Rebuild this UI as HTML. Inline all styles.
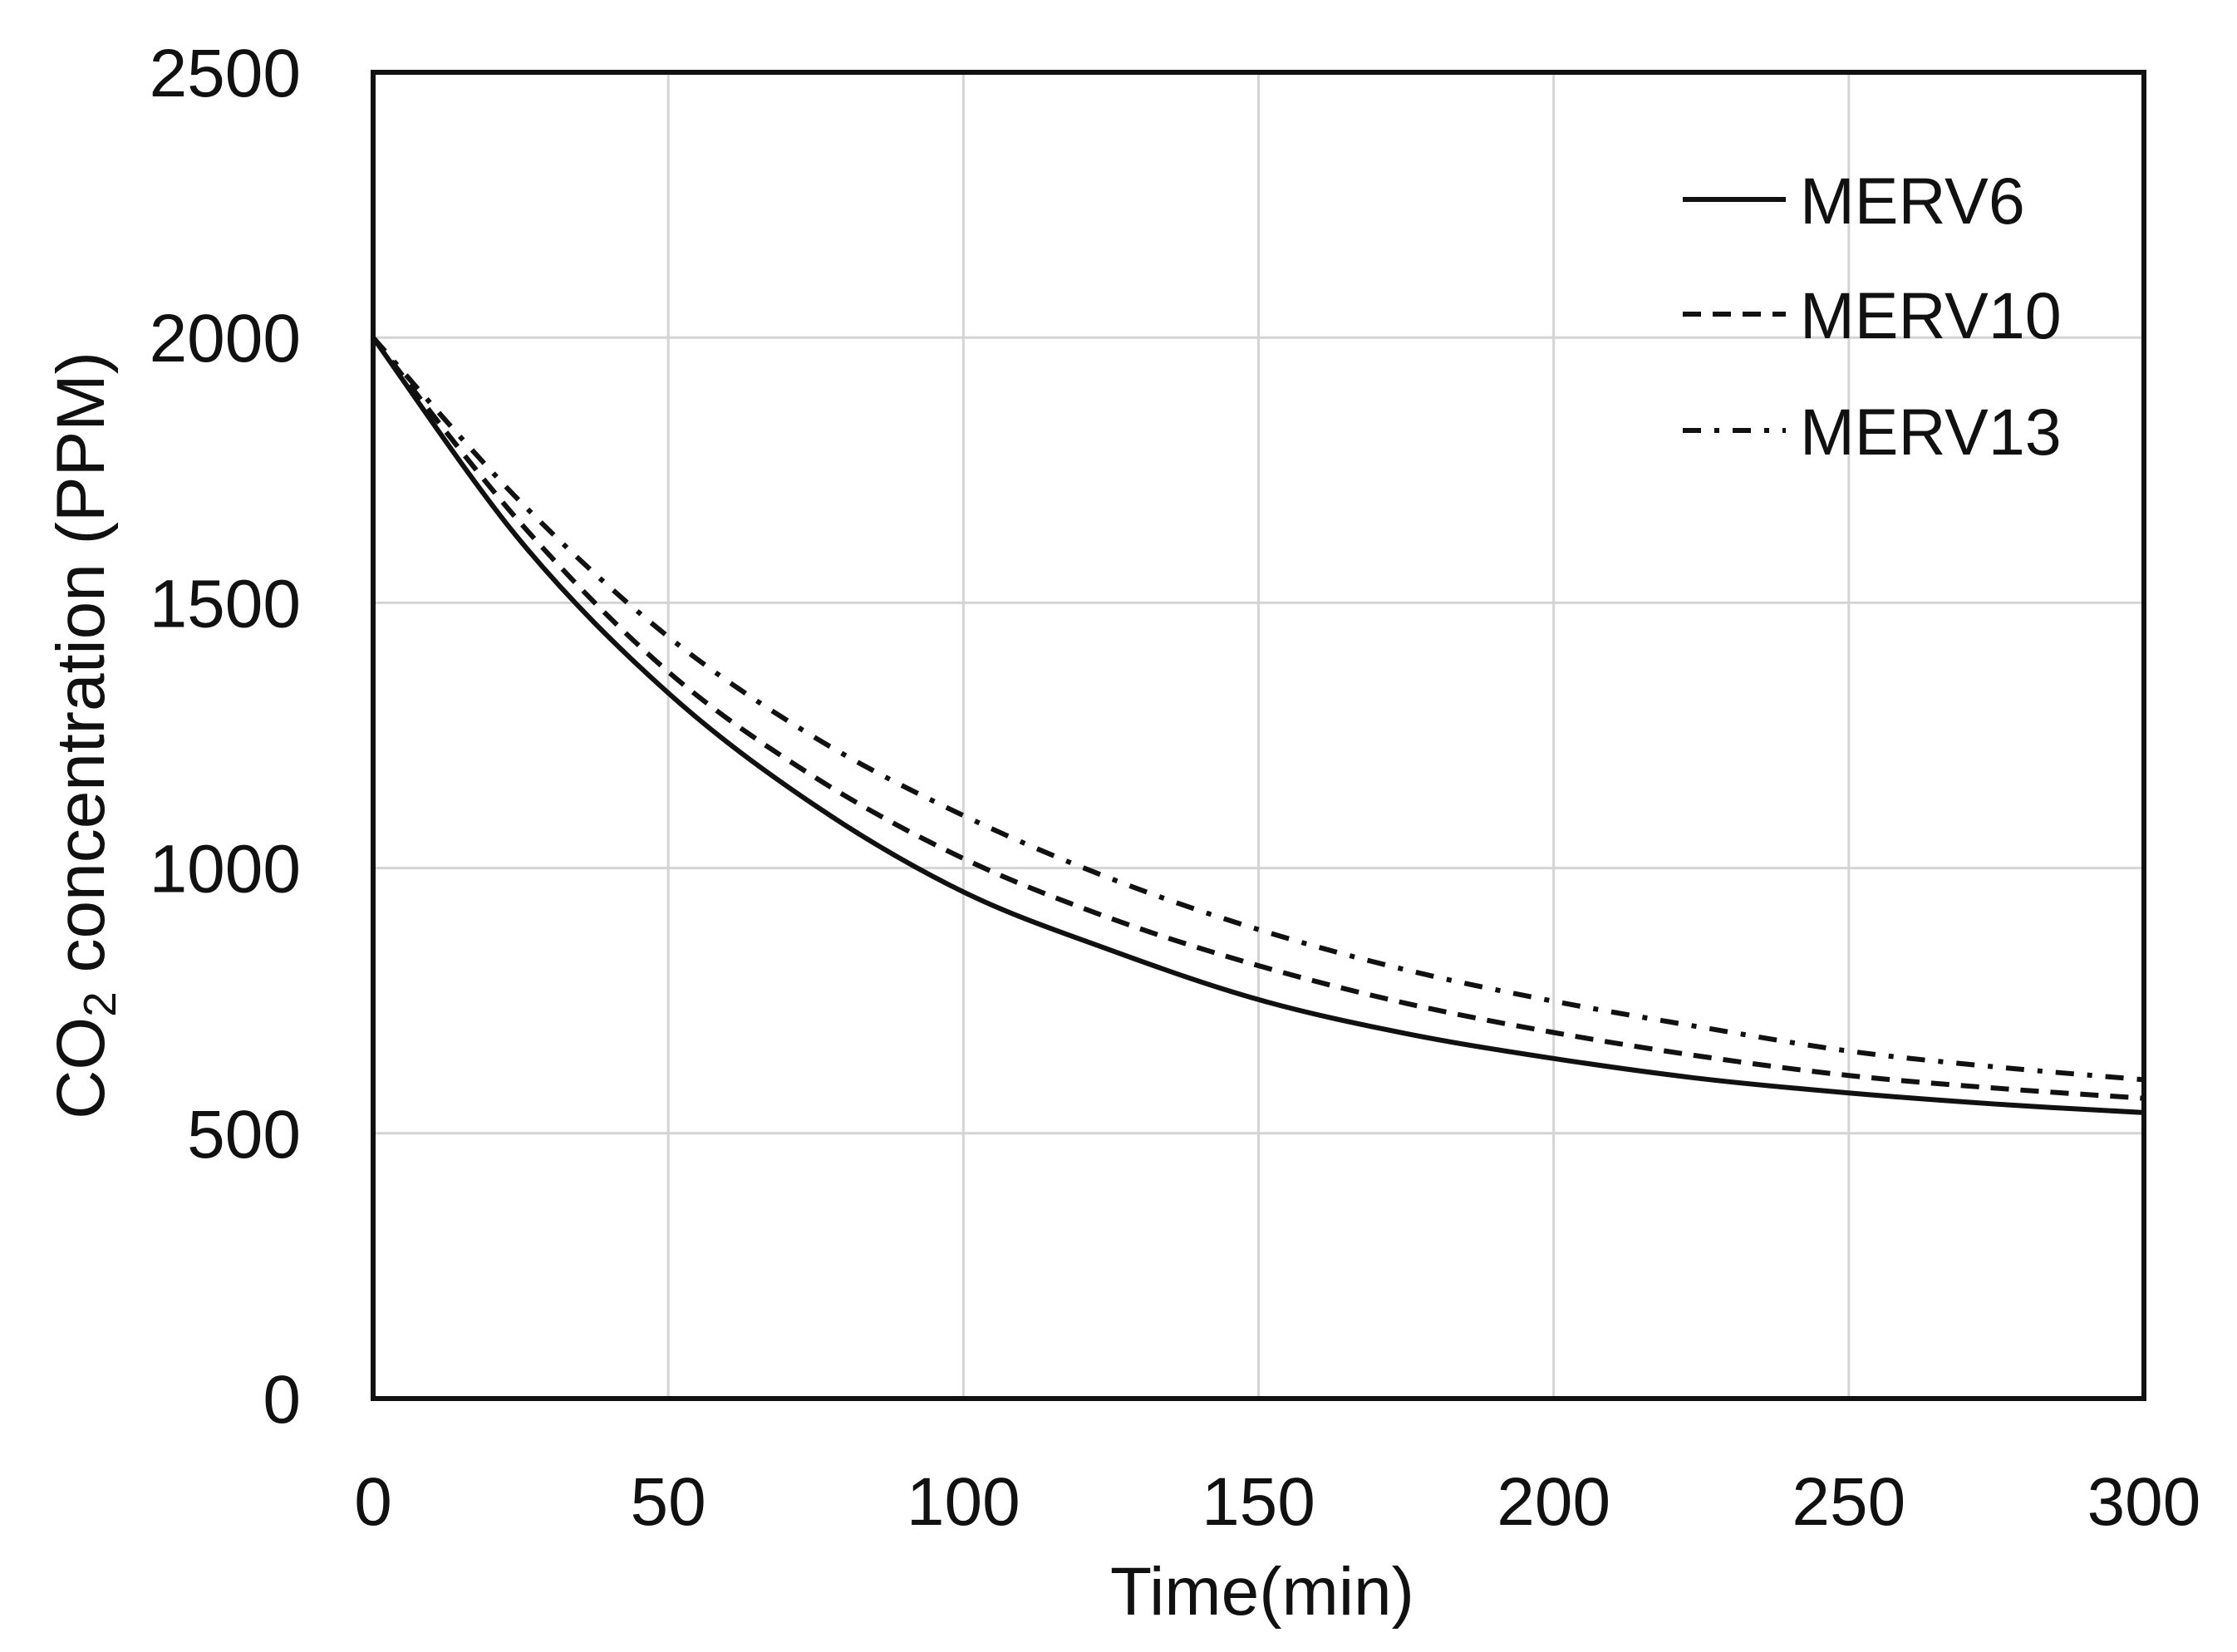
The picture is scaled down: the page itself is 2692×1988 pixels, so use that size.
<!DOCTYPE html>
<html><head><meta charset="utf-8"><style>
html,body{margin:0;padding:0;background:#fff;}
svg{display:block;}
text{font-family:"Liberation Sans",sans-serif;fill:#111;}
</style></head><body>
<svg id="chart" width="2692" height="1988" viewBox="0 0 2692 1988"></svg>
<script>
const times = [0,25,50,75,100,125,150,175,200,225,250,275,300];
const merv6 = [2000,1616,1330,1117,955,845,752,688,641,603,576,555,539];
const merv10 = [2000,1650,1370,1170,1018,905,816,745,690,645,609,585,566];
const merv13 = [2000,1690,1436,1245,1099,980,884,808,749,700,655,625,601];
const xTicks = [0,50,100,150,200,250,300];
const yTicks = [0,500,1000,1500,2000,2500];
const seriesNames = ["MERV6","MERV10","MERV13"];

const L=449,R=2580,T=87,B=1683;
const xs=v=>L+(v-0)/(300-0)*(R-L);
const ys=v=>B-(v-0)/(2500-0)*(B-T);
const NS="http://www.w3.org/2000/svg";
const svg=document.getElementById('chart');
function el(tag,attrs,parent){const e=document.createElementNS(NS,tag);for(const k in attrs)e.setAttribute(k,attrs[k]);(parent||svg).appendChild(e);return e;}

xTicks.forEach(t=>{
  const g=el('line',{x1:xs(t),x2:xs(t),y1:T,y2:B,stroke:'#d4d4d4','stroke-width':3});
  
  
  const lb=el('text',{x:xs(t),y:1835,'text-anchor':'middle','font-size':82});
  lb.textContent=t;
  
  
});
yTicks.forEach(t=>{
  const g=el('line',{x1:L,x2:R,y1:ys(t),y2:ys(t),stroke:'#d4d4d4','stroke-width':3});
  
  
  const lb=el('text',{x:362,y:ys(t)+29,'text-anchor':'end','font-size':82});
  lb.textContent=t;
  
  
});

function smoothPath(xv,yv){
  const p=xv.map((x,i)=>[xs(x),ys(yv[i])]);
  let d=`M${p[0][0]},${p[0][1]}`;
  for(let i=0;i<p.length-1;i++){
    const p0=p[Math.max(i-1,0)],p1=p[i],p2=p[i+1],p3=p[Math.min(i+2,p.length-1)];
    const c1=[p1[0]+(p2[0]-p0[0])/6,p1[1]+(p2[1]-p0[1])/6];
    const c2=[p2[0]-(p3[0]-p1[0])/6,p2[1]-(p3[1]-p1[1])/6];
    d+=` C${c1[0]},${c1[1]} ${c2[0]},${c2[1]} ${p2[0]},${p2[1]}`;
  }
  return d;
}
const styles=[null,'22,14','22,16,6,16'];
const data=[merv6,merv10,merv13];
const names=['merv6-line','merv10-line','merv13-line'];
data.forEach((vals,i)=>{
  const a={d:smoothPath(times,vals),fill:'none',stroke:'#111','stroke-width':6};
  if(styles[i])a['stroke-dasharray']=styles[i];
  const p=el('path',a);
  
  
});

const fr=el('rect',{x:L,y:T,width:R-L,height:B-T,fill:'none',stroke:'#111','stroke-width':6});



const legY=[240,378,518];
seriesNames.forEach((n,i)=>{
  const a={x1:2025,x2:2149,y1:legY[i],y2:legY[i],stroke:'#111','stroke-width':6};
  if(styles[i])a['stroke-dasharray']=styles[i];
  const ln=el('line',a);
  
  
  const tx=el('text',{x:2166,y:legY[i]+29,'font-size':79});
  tx.textContent=n;
  
  
});
</script>
<script>
const s=document.getElementById('chart');
const NS2="http://www.w3.org/2000/svg";
const xt=document.createElementNS(NS2,'text');
xt.setAttribute('x',1519);xt.setAttribute('y',1943);xt.setAttribute('text-anchor','middle');xt.setAttribute('font-size',82);
xt.textContent='Time(min)';


s.appendChild(xt);
const yt=document.createElementNS(NS2,'text');
yt.setAttribute('transform','translate(125,885) rotate(-90)');yt.setAttribute('text-anchor','middle');yt.setAttribute('font-size',82);
yt.innerHTML='CO<tspan font-size="55" dy="14">2</tspan><tspan dy="-14"> concentration (PPM)</tspan>';


s.appendChild(yt);
</script>
</body></html>
